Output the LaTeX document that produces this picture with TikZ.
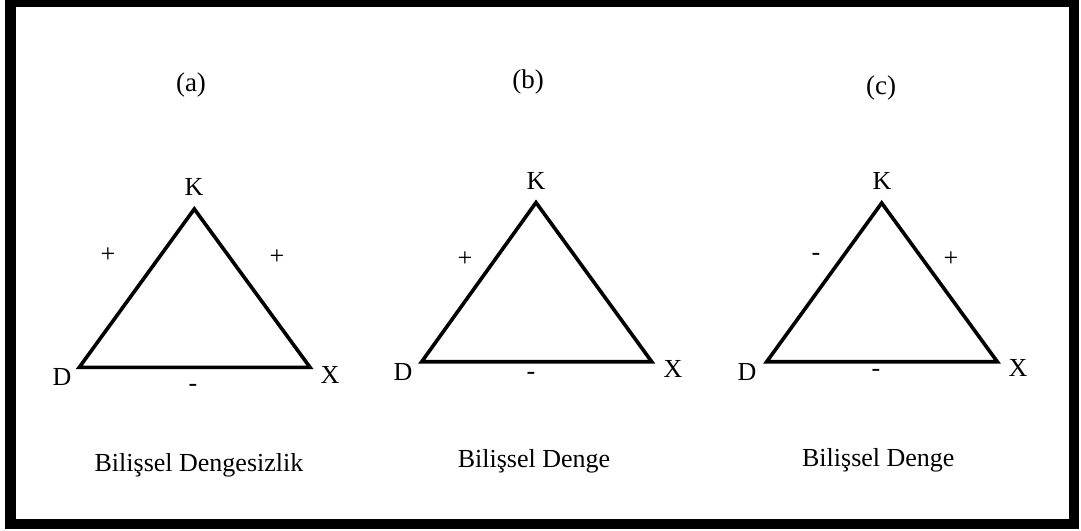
\documentclass[tikz,border=0pt]{standalone}
\usepackage{fontspec}
\setmainfont{Liberation Serif}
\begin{document}
\begin{tikzpicture}[x=1pt,y=-1pt,
  frame/.style={line width=10.5pt},
  tri/.style={line width=3.6pt,line join=miter},
  vlab/.style={font=\fontsize{26}{30}\selectfont,inner sep=0pt},
  slab/.style={font=\fontsize{26}{30}\selectfont,inner sep=0pt},
  title/.style={font=\fontsize{27}{31}\selectfont,inner sep=0pt},
  caption/.style={font=\fontsize{26}{30}\selectfont,inner sep=0pt,anchor=base}]
\useasboundingbox (0,0) rectangle (1081,530);
\fill[white] (0,0) rectangle (1081,530);
\draw[frame] (10.5,2) rectangle (1074,524);

% (a)
\node[title] (ta) at (191,85) {(a)};
\coordinate (aK) at (194.3,209);
\coordinate (aD) at (79.3,367.3);
\coordinate (aX) at (310,367.3);
\draw[tri] (aD) -- (aK) -- (aX) -- cycle;
\node[vlab] (laK) at (194,187) {K};
\node[vlab] (laD) at (62,377) {D};
\node[vlab] (laX) at (330,375) {X};
\node[slab] (saDK) at (108,255) {+};
\node[slab] (saKX) at (277,257) {+};
\node[slab] (saDX) at (193,388) {-};
\node[caption] (ca) at (199,471.7) {Bilişsel Dengesizlik};

% (b)
\node[title] (tb) at (528,82) {(b)};
\coordinate (bK) at (536,202.5);
\coordinate (bD) at (421.7,361.7);
\coordinate (bX) at (651.7,361.7);
\draw[tri] (bD) -- (bK) -- (bX) -- cycle;
\node[vlab] (lbK) at (536,181) {K};
\node[vlab] (lbD) at (403,372) {D};
\node[vlab] (lbX) at (673,369) {X};
\node[slab] (sbDK) at (465,259) {+};
\node[slab] (sbDX) at (531,376) {-};
\node[caption] (cb) at (534,467.3) {Bilişsel Denge};

% (c)
\node[title] (tc) at (881,88) {(c)};
\coordinate (cK) at (881.7,203);
\coordinate (cD) at (766.7,361.7);
\coordinate (cX) at (997.3,361.7);
\draw[tri] (cD) -- (cK) -- (cX) -- cycle;
\node[vlab] (lcK) at (882,181) {K};
\node[vlab] (lcD) at (747,372) {D};
\node[vlab] (lcX) at (1018,368) {X};
\node[slab] (scDK) at (816,257) {-};
\node[slab] (scKX) at (951,259) {+};
\node[slab] (scDX) at (876,373) {-};
\node[caption] (cc) at (878.3,466) {Bilişsel Denge};
\end{tikzpicture}
\end{document}
